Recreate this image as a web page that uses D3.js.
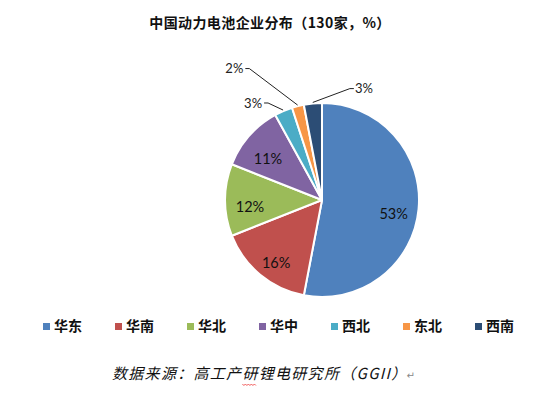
<!DOCTYPE html>
<html><head><meta charset="utf-8">
<script src="https://cdn.jsdelivr.net/npm/d3@7"></script>
<style>body{margin:0;background:#fff}svg{display:block}</style>
</head><body>
<script>
const categories = ["华东","华南","华北","华中","西北","东北","西南"];
const values = [53,16,12,11,3,2,3];
const labels = ["53%","16%","12%","11%","3%","2%","3%"];
const colors = ["#4F81BD","#C0504D","#9BBB59","#8064A2","#4BACC6","#F79646","#2C4D75"];
const title = "中国动力电池企业分布（130家，%）";
const source = "数据来源：高工产研锂电研究所（GGII）";

const W=550,H=393, cx=322, cy=200, R=97;
// label layout: inside labels at centroid; outside labels [angleDeg, radius]
const outside = {4:[-35.4,119],5:[-33.7,158],6:[20.6,119]};

const svg=d3.select("body").append("svg").attr("width",W).attr("height",H);
svg.append("text").attr("x",270).attr("y",28).attr("text-anchor","middle")
  .attr("font-family","'Noto Sans CJK SC'").attr("font-weight","bold").attr("font-size",14)
  .attr("letter-spacing",0.4).attr("fill","#111").text(title);

const pie=d3.pie().sort(null).value(d=>d)(values);
const arc=d3.arc().innerRadius(0).outerRadius(R);
const g=svg.append("g").attr("transform",`translate(${cx},${cy})`);
g.selectAll("path").data(pie).join("path").attr("d",arc)
  .attr("fill",(d,i)=>colors[i]).attr("stroke","#fff").attr("stroke-width",2).attr("stroke-linejoin","round");

const lab=d3.arc().innerRadius(72).outerRadius(72);
pie.forEach((d,i)=>{
  if(outside[i]){
    const [a,r]=outside[i]; const t=a*Math.PI/180;
    const tx=r*Math.sin(t), ty=-r*Math.cos(t);
    const mid=(d.startAngle+d.endAngle)/2;
    const ex=(R+1)*Math.sin(mid), ey=-(R+1)*Math.cos(mid);
    const left = tx<0;
    const hx = left ? tx+11 : tx-10;
    const elbow = left ? hx+4 : hx-4;
    g.append("path").attr("d",`M${ex},${ey}L${elbow},${ty}L${hx},${ty}`)
      .attr("fill","none").attr("stroke","#222").attr("stroke-width",1);
    g.append("text").attr("x",tx).attr("y",ty).attr("dy","0.35em").attr("text-anchor","middle")
      .attr("font-family","Lato, 'Open Sans', sans-serif").attr("font-size",13).attr("fill","#222").text(labels[i]);
  } else {
    const [x,y]=lab.centroid(d);
    g.append("text").attr("x",x).attr("y",y+7).attr("dy","0.35em").attr("text-anchor","middle")
      .attr("font-family","Lato, 'Open Sans', sans-serif").attr("font-size",14.5).attr("fill","#111").text(labels[i]);
  }
});

const lx=d3.scalePoint().domain(categories).range([43,475]);
const lg=svg.append("g");
categories.forEach((c,i)=>{
  lg.append("rect").attr("x",lx(c)).attr("y",323).attr("width",7).attr("height",7).attr("fill",colors[i]);
  lg.append("text").attr("x",lx(c)+11).attr("y",331).attr("font-family","'Noto Sans CJK SC'")
    .attr("font-weight","bold").attr("font-size",14).attr("fill","#111").text(c);
});

const src=svg.append("text").attr("x",112).attr("y",379).attr("font-family","'Noto Sans CJK SC'")
  .attr("font-style","italic").attr("font-size",15).attr("letter-spacing",1.3).attr("fill","#111").text(source);
let endX=398, sx=258;
try{ endX=112+src.node().getComputedTextLength(); sx=112+src.node().getSubStringLength(0,8); }catch(e){}
svg.append("text").attr("x",endX-1).attr("y",379).attr("font-family","'DejaVu Sans'")
  .attr("font-size",10).attr("fill","#888").text("↵");
// spell-check squiggle under 研
const sq=d3.range(0,15,1.5).map((x,k)=>[sx+x, 384+(k%2?1.5:0)]);
svg.append("path").attr("d",d3.line()(sq)).attr("fill","none").attr("stroke","#e33").attr("stroke-width",0.8);
</script>
</body></html>
